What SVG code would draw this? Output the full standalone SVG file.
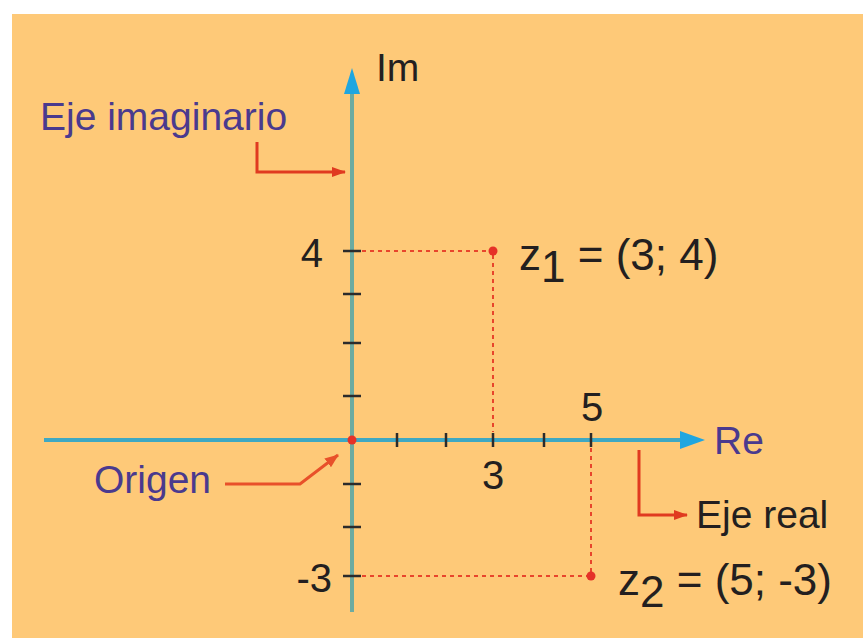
<svg xmlns="http://www.w3.org/2000/svg" width="863" height="638" viewBox="0 0 863 638">
<defs>
<style>
.t{font-family:"Liberation Sans",Arial,sans-serif;}
.lbl{font-size:39px;fill:#4a3a8e;}
.num{font-size:40px;fill:#231f20;}
.blk{font-size:39px;fill:#231f20;}
.zl{font-size:44px;fill:#231f20;}
.tick{stroke:#2b2b2b;stroke-width:2.5;}
.dot{stroke:#e8452c;stroke-width:2;stroke-dasharray:4 4;fill:none;}
.pt{fill:#e53128;}
.rarr{stroke:#e03a20;stroke-width:3;fill:none;}
</style>
<marker id="ah" markerWidth="14" markerHeight="10" refX="13" refY="5" orient="auto" markerUnits="userSpaceOnUse">
<path d="M0,0 L14,5 L0,10 Z" fill="#e03a20"/>
</marker>
<marker id="ah2" markerWidth="14" markerHeight="11" refX="13" refY="5.5" orient="auto" markerUnits="userSpaceOnUse">
<path d="M0,0 L14,5.5 L0,11 Z" fill="#e8502a"/>
</marker>
</defs>
<rect x="0" y="0" width="863" height="638" fill="#ffffff"/>
<rect x="12" y="14" width="851" height="624" fill="#fec978"/>

<g id="axes">
<line x1="44" y1="440" x2="684" y2="440" stroke="#3fa8c2" stroke-width="4"/>
<path d="M705,440 L680,431 L680,449 Z" fill="#1fa6e0"/>
<line x1="352" y1="612" x2="352" y2="90" stroke="#6daba0" stroke-width="4"/>
<path d="M352,68 L344,94 L360,94 Z" fill="#1fa6e0"/>
</g>

<g id="ticks">
<line class="tick" x1="397" y1="433" x2="397" y2="447"/>
<line class="tick" x1="446" y1="433" x2="446" y2="447"/>
<line class="tick" x1="493" y1="433" x2="493" y2="447"/>
<line class="tick" x1="544" y1="433" x2="544" y2="447"/>
<line class="tick" x1="591" y1="433" x2="591" y2="447"/>
<line class="tick" x1="343" y1="251" x2="361" y2="251"/>
<line class="tick" x1="343" y1="294" x2="361" y2="294"/>
<line class="tick" x1="343" y1="343" x2="361" y2="343"/>
<line class="tick" x1="343" y1="396" x2="361" y2="396"/>
<line class="tick" x1="343" y1="484" x2="361" y2="484"/>
<line class="tick" x1="343" y1="527" x2="361" y2="527"/>
<line class="tick" x1="343" y1="576" x2="361" y2="576"/>
</g>

<g id="connectors">
<line class="dot" x1="362" y1="251" x2="490" y2="251"/>
<line class="dot" x1="493" y1="255" x2="493" y2="432"/>
<line class="dot" x1="362" y1="576" x2="588" y2="576"/>
<line class="dot" x1="591" y1="448" x2="591" y2="572"/>
<path class="rarr" d="M257,142 L257,172 L345,172" marker-end="url(#ah)"/>
<path class="rarr" d="M639,450 L639,515 L687,515" marker-end="url(#ah)"/>
<path d="M225,484 L300,484 L338,455" stroke="#e8502a" stroke-width="3" fill="none" marker-end="url(#ah2)"/>
</g>

<g id="origin"><circle class="pt" cx="352" cy="440" r="4.5"/></g>
<g id="z1"><circle class="pt" cx="493" cy="251" r="4.5"/>
<text class="t zl" x="519" y="270">z<tspan dy="12">1</tspan><tspan dy="-12"> = (3; 4)</tspan></text></g>
<g id="z2"><circle class="pt" cx="591" cy="576" r="4.5"/>
<text class="t zl" x="618" y="595">z<tspan dy="12">2</tspan><tspan dy="-12"> = (5; -3)</tspan></text></g>

<g id="labels">
<text class="t blk" x="376" y="81" font-size="40">Im</text>
<text class="t lbl" x="40" y="130">Eje imaginario</text>
<text class="t num" x="323" y="267" text-anchor="end">4</text>
<text class="t num" x="332" y="592" text-anchor="end">-3</text>
<text class="t num" x="592" y="421" text-anchor="middle">5</text>
<text class="t num" x="493" y="489" text-anchor="middle">3</text>
<text class="t lbl" x="714" y="454">Re</text>
<text class="t lbl" x="94" y="493">Origen</text>
<text class="t blk" x="696" y="528">Eje real</text>
</g>
</svg>
